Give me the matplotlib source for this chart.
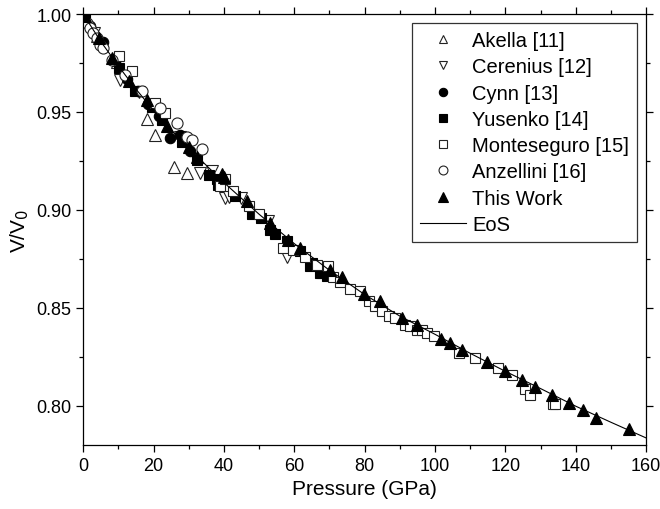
import numpy as np
import matplotlib
matplotlib.use('Agg')
import matplotlib.pyplot as plt
from matplotlib.ticker import MultipleLocator

plt.rcParams['font.family'] = ['Liberation Sans', 'DejaVu Sans']

# Akella [11]
akella_p = [4.0, 9.5, 18.1, 20.5, 25.7, 29.5]
akella_v = [0.9890, 0.9755, 0.9463, 0.9383, 0.9217, 0.9187]

# Cerenius [12]
cerenius_p = [3.0, 10.5, 16.0, 22.0, 27.5, 33.3, 36.5, 40.3, 41.4, 45.0, 52.6, 57.9]
cerenius_v = [0.9905, 0.9664, 0.9600, 0.9470, 0.9370, 0.9187, 0.9200, 0.9062, 0.9068, 0.9060, 0.8942, 0.8760]

# Cynn [13]
cynn_p = [2.0, 5.5, 9.0, 12.5, 15.5, 18.5, 21.5, 24.8, 27.5, 30.5]
cynn_v = [0.9940, 0.9855, 0.9760, 0.9670, 0.9605, 0.9540, 0.9480, 0.9366, 0.9380, 0.9300]

# Yusenko [14]
yusenko_p = [0.4, 10.1, 14.8, 19.5, 22.4, 28.1, 32.3, 35.7, 37.9, 38.4, 43.2, 47.9,
             50.5, 53.1, 54.5, 58.0, 61.5, 64.5, 65.0, 67.3, 67.8, 69.2]
yusenko_v = [0.9995, 0.9724, 0.9605, 0.9528, 0.9459, 0.9349, 0.9255, 0.9178, 0.9156, 0.9127, 0.9070, 0.8977,
             0.8960, 0.8900, 0.8875, 0.8840, 0.8790, 0.8713, 0.8730, 0.8679, 0.8680, 0.8661]

# Monteseguro [15]
monte_p = [10.1, 13.9, 20.5, 23.3, 38.9, 40.4, 42.7, 47.0, 50.0, 56.9, 59.7, 63.0, 66.5, 69.7,
           71.1, 73.0, 75.9, 78.7, 81.1, 83.0, 84.9, 86.8, 88.7, 91.5, 92.9, 94.8, 96.3, 97.7,
           99.6, 106.7, 111.4, 118.0, 121.9, 125.7, 127.1, 133.6, 134.2]
monte_v = [0.9784, 0.9707, 0.9545, 0.9494, 0.9122, 0.9160, 0.9096, 0.9020, 0.8980, 0.8807, 0.8798, 0.8760, 0.8720, 0.8713,
           0.8660, 0.8630, 0.8597, 0.8585, 0.8537, 0.8508, 0.8482, 0.8460, 0.8449, 0.8414, 0.8406, 0.8389, 0.8389, 0.8372,
           0.8355, 0.8270, 0.8244, 0.8193, 0.8159, 0.8085, 0.8056, 0.8010, 0.8010]

# Anzellini [16]
anz_p = [1.1, 2.0, 2.9, 3.9, 4.8, 5.7, 8.2, 11.9, 16.7, 21.9, 26.7, 29.5, 30.9, 33.8]
anz_v = [0.9954, 0.9928, 0.9903, 0.9877, 0.9843, 0.9826, 0.9766, 0.9690, 0.9605, 0.9519, 0.9442, 0.9374, 0.9357, 0.9310]

# This Work
tw_p = [0.5, 4.4, 8.2, 12.9, 18.1, 23.8, 30.0, 32.3, 39.4, 39.9, 46.5, 53.1, 58.3, 61.6,
        70.2, 73.5, 79.9, 84.4, 90.6, 95.0, 101.7, 104.3, 107.6, 114.8, 120.0, 124.7,
        128.5, 133.3, 138.2, 142.0, 145.8, 155.0]
tw_v = [0.9990, 0.9877, 0.9775, 0.9656, 0.9562, 0.9426, 0.9323, 0.9272, 0.9182, 0.9170, 0.9045, 0.8934, 0.8845, 0.8807,
        0.8692, 0.8656, 0.8571, 0.8537, 0.8449, 0.8414, 0.8341, 0.8321, 0.8286, 0.8223, 0.8176, 0.8133,
        0.8096, 0.8056, 0.8014, 0.7980, 0.7939, 0.7882]

# EoS curve
eos_p = [0, 5, 10, 15, 20, 25, 30, 40, 50, 60, 70, 80, 90, 100, 110, 120, 130, 140, 150, 160]
eos_v = [1.0, 0.9860, 0.9735, 0.9617, 0.9508, 0.9408, 0.9315, 0.9140, 0.8978, 0.8828, 0.8692,
         0.8568, 0.8458, 0.8365, 0.8268, 0.8176, 0.8088, 0.7998, 0.7916, 0.7836]

fig = plt.figure(figsize=(6.6, 5.1), dpi=100)
ax = fig.add_axes([0.126, 0.1255, 0.853, 0.845])

mew = 0.8
ax.plot(akella_p, akella_v, ls='none', marker='^', ms=8, mfc='white', mec='#222222', mew=mew, label='Akella [11]')
ax.plot(cerenius_p, cerenius_v, ls='none', marker='v', ms=8, mfc='white', mec='#222222', mew=mew, label='Cerenius [12]')
ax.plot(cynn_p, cynn_v, ls='none', marker='o', ms=7.5, mfc='black', mec='black', mew=mew, label='Cynn [13]')
ax.plot(yusenko_p, yusenko_v, ls='none', marker='s', ms=7, mfc='black', mec='black', mew=mew, label='Yusenko [14]')
ax.plot(monte_p, monte_v, ls='none', marker='s', ms=7, mfc='white', mec='#222222', mew=mew, label='Monteseguro [15]')
ax.plot(anz_p, anz_v, ls='none', marker='o', ms=8, mfc='white', mec='#222222', mew=mew, label='Anzellini [16]')
ax.plot(tw_p, tw_v, ls='none', marker='^', ms=8.5, mfc='black', mec='black', mew=mew, label='This Work')
ax.plot(eos_p, eos_v, color='black', lw=0.8, label='EoS', zorder=5)

ax.set_xlim(0, 160)
ax.set_ylim(0.78, 1.00)
ax.xaxis.set_major_locator(MultipleLocator(20))
ax.xaxis.set_minor_locator(MultipleLocator(10))
ax.yaxis.set_major_locator(MultipleLocator(0.05))
ax.yaxis.set_minor_locator(MultipleLocator(0.025))
ax.yaxis.set_major_formatter(matplotlib.ticker.FormatStrFormatter('%.2f'))
ax.tick_params(which='both', direction='out', top=True, right=True, width=0.9, labelsize=13)
ax.tick_params(which='major', length=5)
ax.tick_params(which='minor', length=2.8)
for s in ax.spines.values():
    s.set_linewidth(0.9)

ax.set_xlabel('Pressure (GPa)', fontsize=15)
ax.set_ylabel('V/V$_0$', fontsize=15)

leg = ax.legend(loc='upper right', fontsize=14.5, markerscale=0.8, handlelength=2.3,
                labelspacing=0.36, borderaxespad=0.45, fancybox=False, frameon=True,
                handletextpad=0.3, borderpad=0.4)
leg.get_frame().set_edgecolor('black')
leg.get_frame().set_linewidth(0.9)

fig.savefig('out.png', dpi=100)
